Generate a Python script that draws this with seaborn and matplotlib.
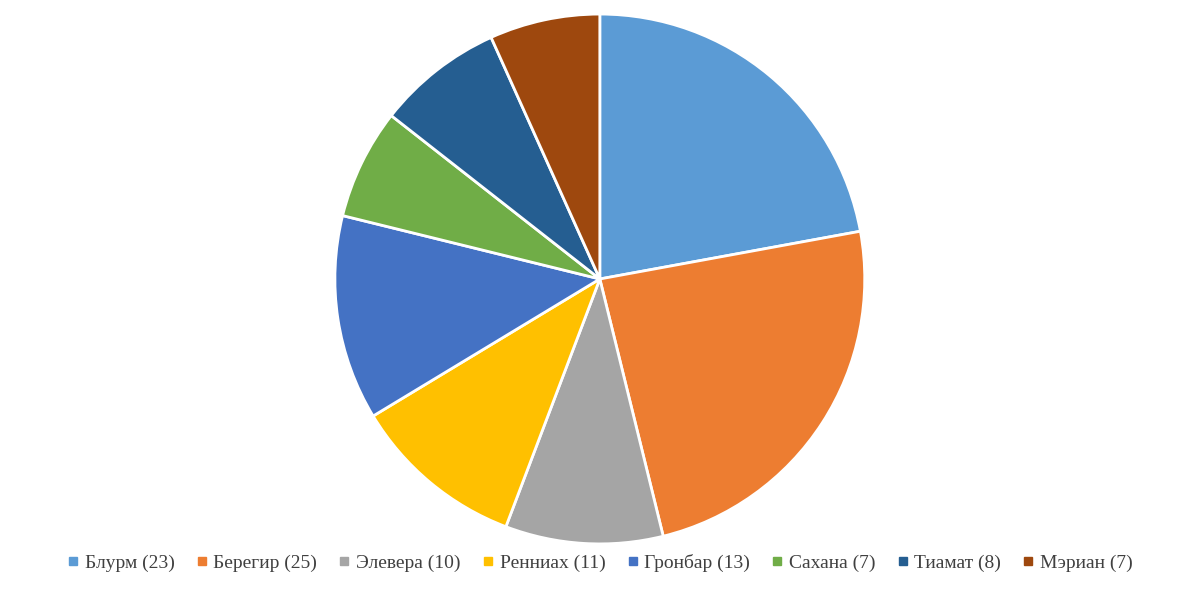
import matplotlib
matplotlib.use("Agg")
import matplotlib.pyplot as plt
import seaborn as sns
from matplotlib.lines import Line2D

names = ["Блурм", "Берегир", "Элевера", "Ренниах", "Гронбар", "Сахана", "Тиамат", "Мэриан"]
values = [23, 25, 10, 11, 13, 7, 8, 7]
colors = ["#5B9BD5", "#ED7D31", "#A5A5A5", "#FFC000", "#4472C4", "#70AD47", "#255E91", "#9E480E"]

sns.set_theme(style="white")
plt.rcParams['font.family'] = ['Liberation Serif', 'DejaVu Serif']
pal = sns.color_palette(colors)

fig = plt.figure(figsize=(12, 5.96), dpi=100)
ax = fig.add_axes([0.279, 0.0874, 0.4417, 0.889])
ax.pie(values, colors=pal, startangle=90, counterclock=False,
       wedgeprops=dict(edgecolor="white", linewidth=2))
ax.set_xlim(-1.0, 1.0)
ax.set_ylim(-1.0, 1.0)
ax.set_aspect("equal")

handles = [Line2D([], [], marker="s", linestyle="", markersize=6, color=c) for c in pal]
labels = [f"{n} ({v})" for n, v in zip(names, values)]
fig.legend(handles, labels, loc="center", bbox_to_anchor=(0.5, 0.055), ncol=8,
           frameon=False, fontsize=14, handlelength=0.6, handletextpad=0.3,
           columnspacing=1.1, labelcolor="#404040")
fig.savefig("out.png", dpi=100)
